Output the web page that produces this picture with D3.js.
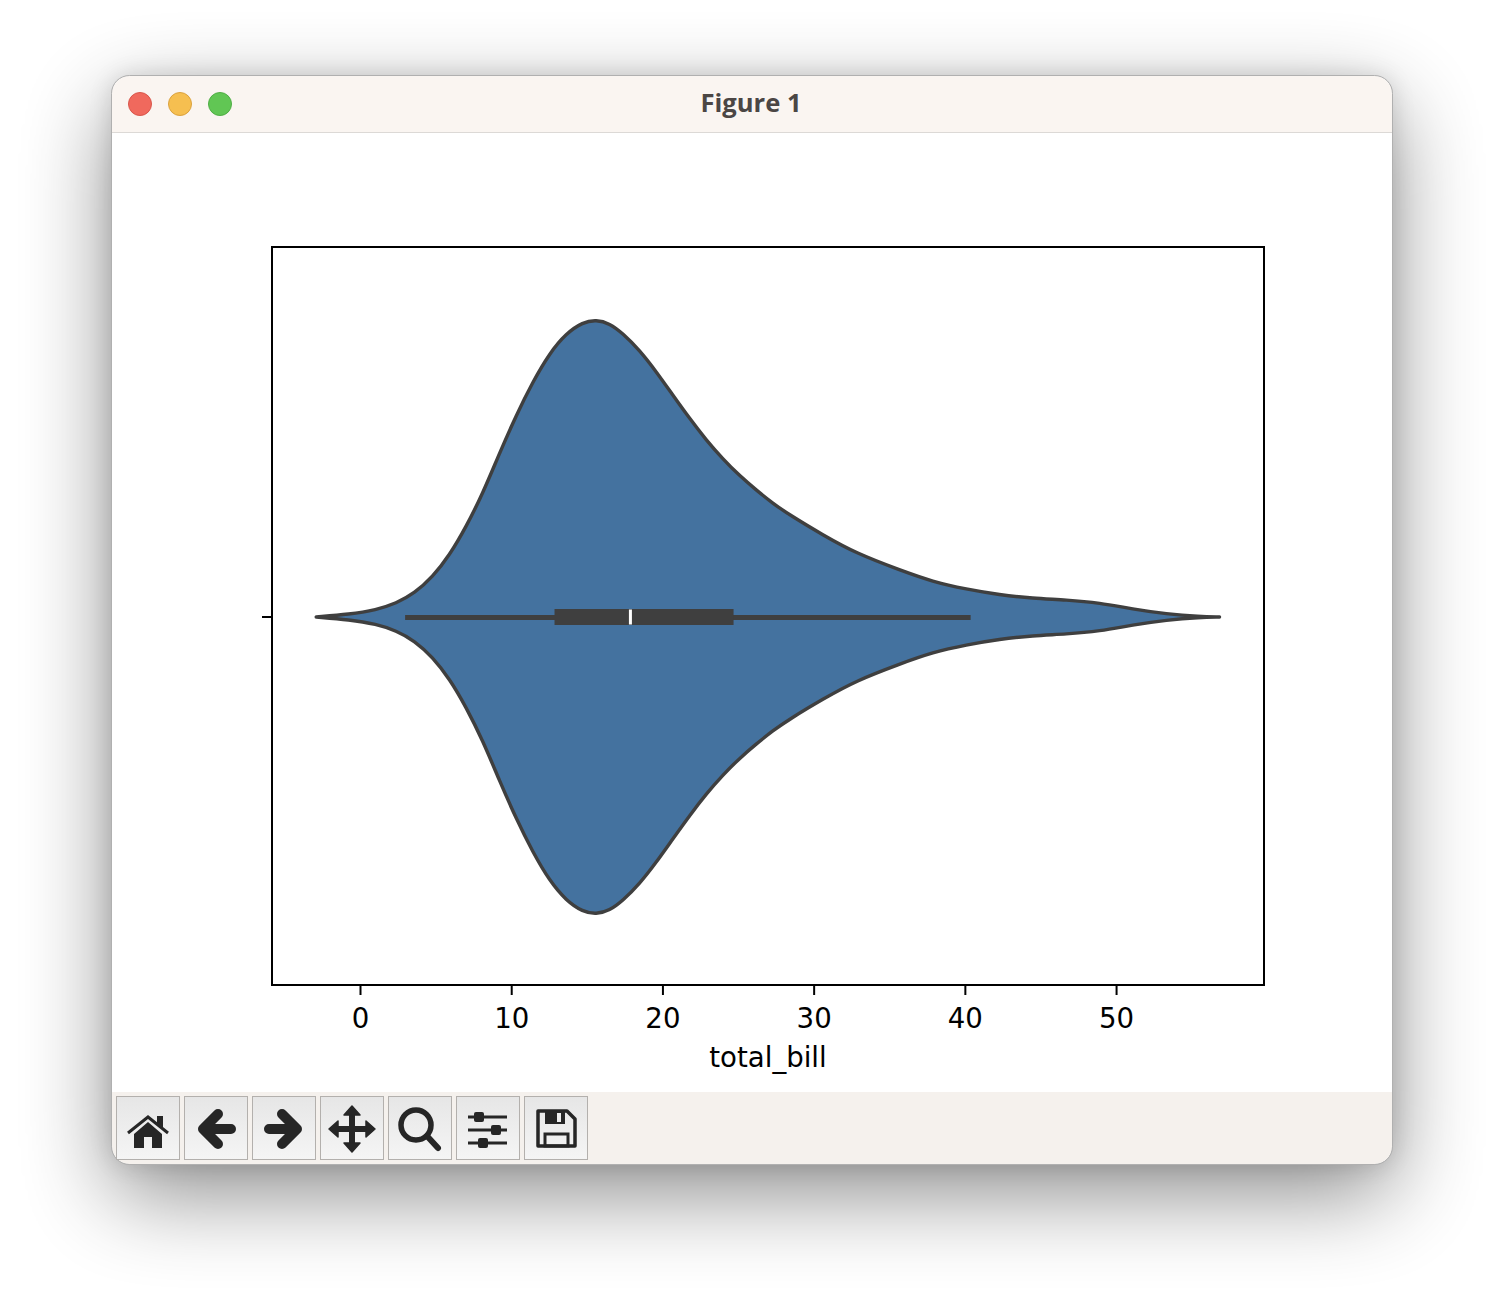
<!DOCTYPE html>
<html><head><meta charset="utf-8">
<script src="https://cdn.jsdelivr.net/npm/d3@7/dist/d3.min.js"></script>
<style>html,body{margin:0;padding:0;background:#fff}svg{display:block}</style>
</head><body><div id="chart"></div>
<script>
const titleText = "Figure 1";
const xLabel = "total_bill";
const xTicks = [0, 10, 20, 30, 40, 50];
const billGrid = [-2.93,-0.73,1.04,2.36,3.57,4.78,5.89,6.99,8.09,9.19,10.30,11.40,12.50,13.60,14.70,15.59,16.47,17.35,18.45,19.56,20.65,21.76,22.86,23.96,25.07,26.17,27.27,28.37,30.58,32.78,35.65,37.85,40.06,42.26,44.44,46.69,48.88,51.06,53.31,55.49,56.81];
const densityPct = [0,0.9,2.4,4.6,8.0,13.6,20.9,30.5,41.8,55.3,68.2,79.5,89.1,95.8,99.6,100.4,99.2,95.8,90.2,82.9,75,67.1,59.8,53.4,47.7,42.9,38.4,34.5,27.7,21.5,15.9,11.9,9.4,7.5,6.3,5.8,4.8,2.7,1.0,0.1,0];
const whisker = [2.95, 40.35];
const quartiles = [12.83, 24.67];
const median = 17.85;
const buttons = ["home","back","forward","move","zoom","sliders","save"];

const W = 1504, H = 1312;
const svg = d3.select("#chart").append("svg").attr("width", W).attr("height", H);
const defs = svg.append("defs");
function blur(id, s){
  defs.append("filter").attr("id",id).attr("filterUnits","userSpaceOnUse").attr("x",-200).attr("y",-200).attr("width",1904).attr("height",1712)
    .append("feGaussianBlur").attr("stdDeviation",s);
}
blur("shadowWide",45); blur("shadowTight",12);
const bg = defs.append("linearGradient").attr("id","btn").attr("x1",0).attr("x2",0).attr("y1",0).attr("y2",1);
bg.append("stop").attr("offset",0).attr("stop-color","#e6e6e6");
bg.append("stop").attr("offset",1).attr("stop-color","#f5f5f5");
defs.append("clipPath").attr("id","win").append("rect").attr("x",112).attr("y",76).attr("width",1280).attr("height",1088).attr("rx",18);

// window
svg.append("rect").attr("x",112).attr("y",106).attr("width",1280).attr("height",1088).attr("rx",18).attr("fill","#000").attr("opacity",0.45).attr("filter","url(#shadowWide)");
svg.append("rect").attr("x",112).attr("y",76).attr("width",1280).attr("height",1088).attr("rx",18).attr("fill","#000").attr("opacity",0.13).attr("filter","url(#shadowTight)");
const win = svg.append("g").attr("clip-path","url(#win)");
win.append("rect").attr("x",112).attr("y",76).attr("width",1280).attr("height",1088).attr("fill","#fff");
win.append("rect").attr("x",112).attr("y",76).attr("width",1280).attr("height",56).attr("fill","#faf5f1");
win.append("line").attr("x1",112).attr("x2",1392).attr("y1",132.5).attr("y2",132.5).attr("stroke","#dcd9d6");
win.append("rect").attr("x",112).attr("y",1092).attr("width",1280).attr("height",72).attr("fill","#f5f1ed");
svg.append("rect").attr("x",111.5).attr("y",75.5).attr("width",1281).attr("height",1089).attr("rx",18).attr("fill","none").attr("stroke","#b0b0b0");
[[140,"#f0695d","#d9564b"],[180,"#f6bf50","#dba23e"],[220,"#61c654","#4fae45"]].forEach(d=>{
  svg.append("circle").attr("cx",d[0]).attr("cy",104).attr("r",11.5).attr("fill",d[1]).attr("stroke",d[2]);
});
svg.append("text").attr("x",751).attr("y",112).attr("text-anchor","middle").attr("font-family","'Open Sans',sans-serif").attr("font-weight",700).attr("font-size",25.6).attr("fill","#4b4644").text(titleText);

// plot
const x = d3.scaleLinear().domain([-5.853, 59.75]).range([272, 1264]);
const y = d3.scaleLinear().domain([-100, 100]).range([913, 321]);
const band = d3.scaleBand().domain([""]).range([985, 249]);
const rows = billGrid.map((b,i)=>({b, d:densityPct[i]}));
const area = d3.area().x(d=>x(d.b)).y0(d=>y(-d.d)).y1(d=>y(d.d)).curve(d3.curveBasis);
const plot = svg.append("g");
plot.append("path").datum(rows).attr("d",area).attr("fill","#44729f").attr("stroke","#3f3f3f").attr("stroke-width",3.4).attr("stroke-linejoin","round");
const cy = band("") + band.bandwidth()/2;
plot.append("line").attr("x1",x(whisker[0])).attr("x2",x(whisker[1])).attr("y1",cy+0.5).attr("y2",cy+0.5).attr("stroke","#3f3f3f").attr("stroke-width",5);
plot.append("rect").attr("x",x(quartiles[0])).attr("width",x(quartiles[1])-x(quartiles[0])).attr("y",cy-8).attr("height",16).attr("fill","#3f3f3f");
plot.append("line").attr("x1",x(median)).attr("x2",x(median)).attr("y1",cy-7.5).attr("y2",cy+7.5).attr("stroke","#fff").attr("stroke-width",3);

svg.append("rect").attr("x",272).attr("y",247).attr("width",992).attr("height",738).attr("fill","none").attr("stroke","#000").attr("stroke-width",2);
const xAxis = svg.append("g").attr("transform","translate(0,985)").call(d3.axisBottom(x).offset(0).tickValues(xTicks).tickFormat(d3.format("d")).tickSize(10).tickPadding(13));
xAxis.select(".domain").remove();
xAxis.selectAll("line").attr("stroke","#000").attr("stroke-width",2);
xAxis.selectAll("text").attr("font-family","'DejaVu Sans'").attr("font-size",27.6).attr("fill","#000");
const yAxis = svg.append("g").attr("transform","translate(272,0)").call(d3.axisLeft(band).offset(0).tickSize(10).tickFormat(""));
yAxis.select(".domain").remove();
yAxis.selectAll("line").attr("stroke","#000").attr("stroke-width",2);
svg.append("text").attr("x",768).attr("y",1067).attr("text-anchor","middle").attr("font-family","'DejaVu Sans'").attr("font-size",27.6).attr("fill","#000").text(xLabel);

// toolbar
const ink = "#262626";
const draw = {
  home(g){
    g.append("path").attr("d","M12 37L32 21L52 37").attr("fill","none").attr("stroke",ink).attr("stroke-width",3);
    g.append("path").attr("d","M18 38L32 26L46 38V52H36V41H28V52H18Z").attr("fill",ink);
    g.append("path").attr("d","M41 20H47V32L41 27Z").attr("fill",ink);
  },
  back(g){ g.append("path").attr("d","M34 18L19 33L34 48M19 33H47").attr("fill","none").attr("stroke",ink).attr("stroke-width",10).attr("stroke-linecap","round").attr("stroke-linejoin","round"); },
  forward(g){ g.append("path").attr("d","M30 18L45 33L30 48M45 33H17").attr("fill","none").attr("stroke",ink).attr("stroke-width",10).attr("stroke-linecap","round").attr("stroke-linejoin","round"); },
  move(g){
    g.append("path").attr("d","M32 14V52M14 33H50").attr("stroke",ink).attr("stroke-width",6);
    g.append("path").attr("d","M32 10L40 19H24ZM32 56L40 47H24ZM9 33L18 25V41ZM55 33L46 25V41Z").attr("fill",ink).attr("stroke",ink).attr("stroke-width",1.5).attr("stroke-linejoin","round");
  },
  zoom(g){
    g.append("circle").attr("cx",28).attr("cy",29).attr("r",15).attr("fill","none").attr("stroke",ink).attr("stroke-width",5.5);
    g.append("path").attr("d","M39 40L50 52").attr("stroke",ink).attr("stroke-width",6).attr("stroke-linecap","round");
  },
  sliders(g){
    [[21,23],[34,40],[47,27]].forEach(d=>{
      g.append("line").attr("x1",12).attr("x2",51).attr("y1",d[0]).attr("y2",d[0]).attr("stroke",ink).attr("stroke-width",3);
      g.append("rect").attr("x",d[1]-5).attr("y",d[0]-5).attr("width",10).attr("height",10).attr("rx",2).attr("fill",ink);
    });
  },
  save(g){
    g.append("path").attr("d","M14 15H43L51 23V50H14Z").attr("fill","none").attr("stroke",ink).attr("stroke-width",3.5).attr("stroke-linejoin","round");
    g.append("path").attr("d","M21 15H41V28H21Z").attr("fill",ink);
    g.append("rect").attr("x",33).attr("y",17).attr("width",4).attr("height",9).attr("fill","#eee");
    g.append("rect").attr("x",21).attr("y",38).attr("width",23).attr("height",12).attr("fill","none").attr("stroke",ink).attr("stroke-width",3);
  }
};
const tb = svg.append("g");
buttons.forEach((name,i)=>{
  const g = tb.append("g").attr("transform",`translate(${116+68*i},1096)`);
  g.append("rect").attr("x",0.5).attr("y",0.5).attr("width",63).attr("height",63).attr("fill","url(#btn)").attr("stroke","#b3b0ad");
  draw[name](g);
});
</script></body></html>
